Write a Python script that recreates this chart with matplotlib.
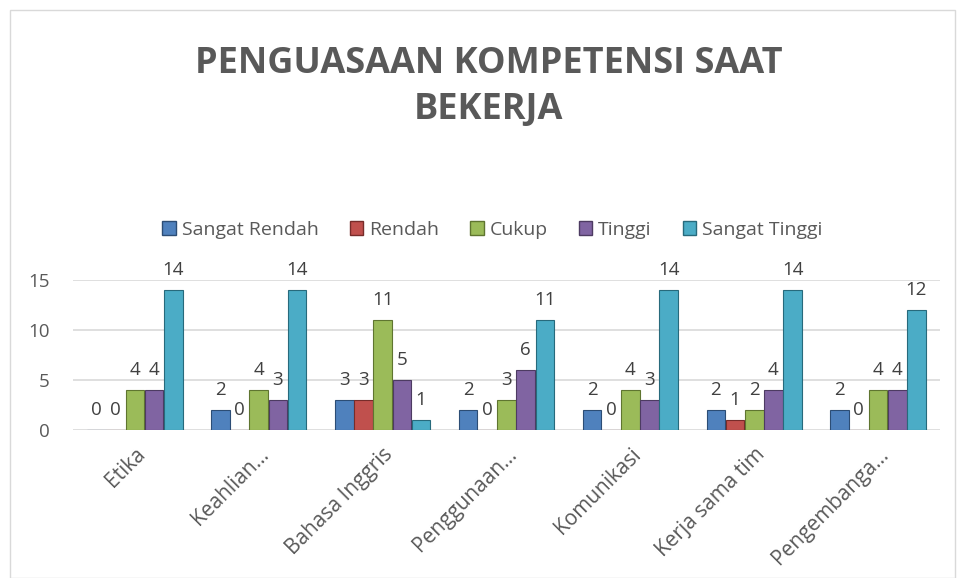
import matplotlib.pyplot as plt
import numpy as np
from matplotlib.patches import Patch, Rectangle

categories = ["Etika", "Keahlian…", "Bahasa Inggris", "Penggunaan…",
              "Komunikasi", "Kerja sama tim", "Pengembanga…"]
series_names = ["Sangat Rendah", "Rendah", "Cukup", "Tinggi", "Sangat Tinggi"]
sangat_rendah = [0, 2, 3, 2, 2, 2, 2]
rendah = [0, 0, 3, 0, 0, 1, 0]
cukup = [4, 4, 11, 3, 4, 2, 4]
tinggi = [4, 3, 5, 6, 3, 4, 4]
sangat_tinggi = [14, 14, 1, 11, 14, 14, 12]
yticks = [0, 5, 10, 15]

series = [sangat_rendah, rendah, cukup, tinggi, sangat_tinggi]
colors = ["#4F81BD", "#C0504D", "#9BBB59", "#8064A2", "#4BACC6"]
edges = ["#2C4D75", "#772C2A", "#5F7530", "#4D3B62", "#276A7C"]
txt = "#595959"
plt.rcParams['font.family'] = ['Open Sans', 'DejaVu Sans']

fig = plt.figure(figsize=(9.58, 5.78), dpi=100)
fig.patches.append(Rectangle((10/958, 0), 945/958, 1 - 10/578, transform=fig.transFigure,
                             fill=False, edgecolor="#D9D9D9", lw=1))
ax = fig.add_axes([73/958, 1 - 430/578, 867/958, 150/578])

x = np.arange(len(categories))
w = 0.155
for i, (vals, c, e) in enumerate(zip(series, colors, edges)):
    pos = x + (i - 2) * w
    ax.bar(pos, vals, width=w * 0.97, color=c, edgecolor=e, lw=0.8, zorder=3)
    # value labels sit a bit above each bar, like the excel chart
    for p, v in zip(pos, vals):
        ax.text(p, v + 1.1, str(v), ha="center", va="bottom", fontsize=13.5, color="#404040",
                clip_on=False)

ax.set_xlim(-0.5, len(categories) - 0.5)
ax.set_ylim(0, 15)
ax.set_yticks(yticks)
ax.tick_params(axis="y", length=0, labelsize=13.5, labelcolor=txt, pad=17)
ax.yaxis.grid(True, color="#D9D9D9", lw=1.2, zorder=0)
for s in ax.spines.values():
    s.set_visible(False)
ax.set_xticks(x)
ax.set_xticklabels(categories, rotation=45, ha="right", rotation_mode="anchor",
                   fontsize=15, color=txt)
ax.tick_params(axis="x", length=0, pad=10)

fig.text(0.51, 1 - 87/578, "PENGUASAAN KOMPETENSI SAAT\nBEKERJA", ha="center", va="center",
         fontsize=26, fontweight="bold", color=txt, linespacing=1.35)

handles = [Patch(facecolor=c, edgecolor=e) for c, e in zip(colors, edges)]
fig.legend(handles, series_names, loc="center", bbox_to_anchor=(0.514, 1 - 230/578), ncol=5,
           frameon=False, fontsize=14, labelcolor=txt, handlelength=0.7, handleheight=0.7,
           handletextpad=0.3, columnspacing=1.6)

fig.savefig("out.png", dpi=100)
